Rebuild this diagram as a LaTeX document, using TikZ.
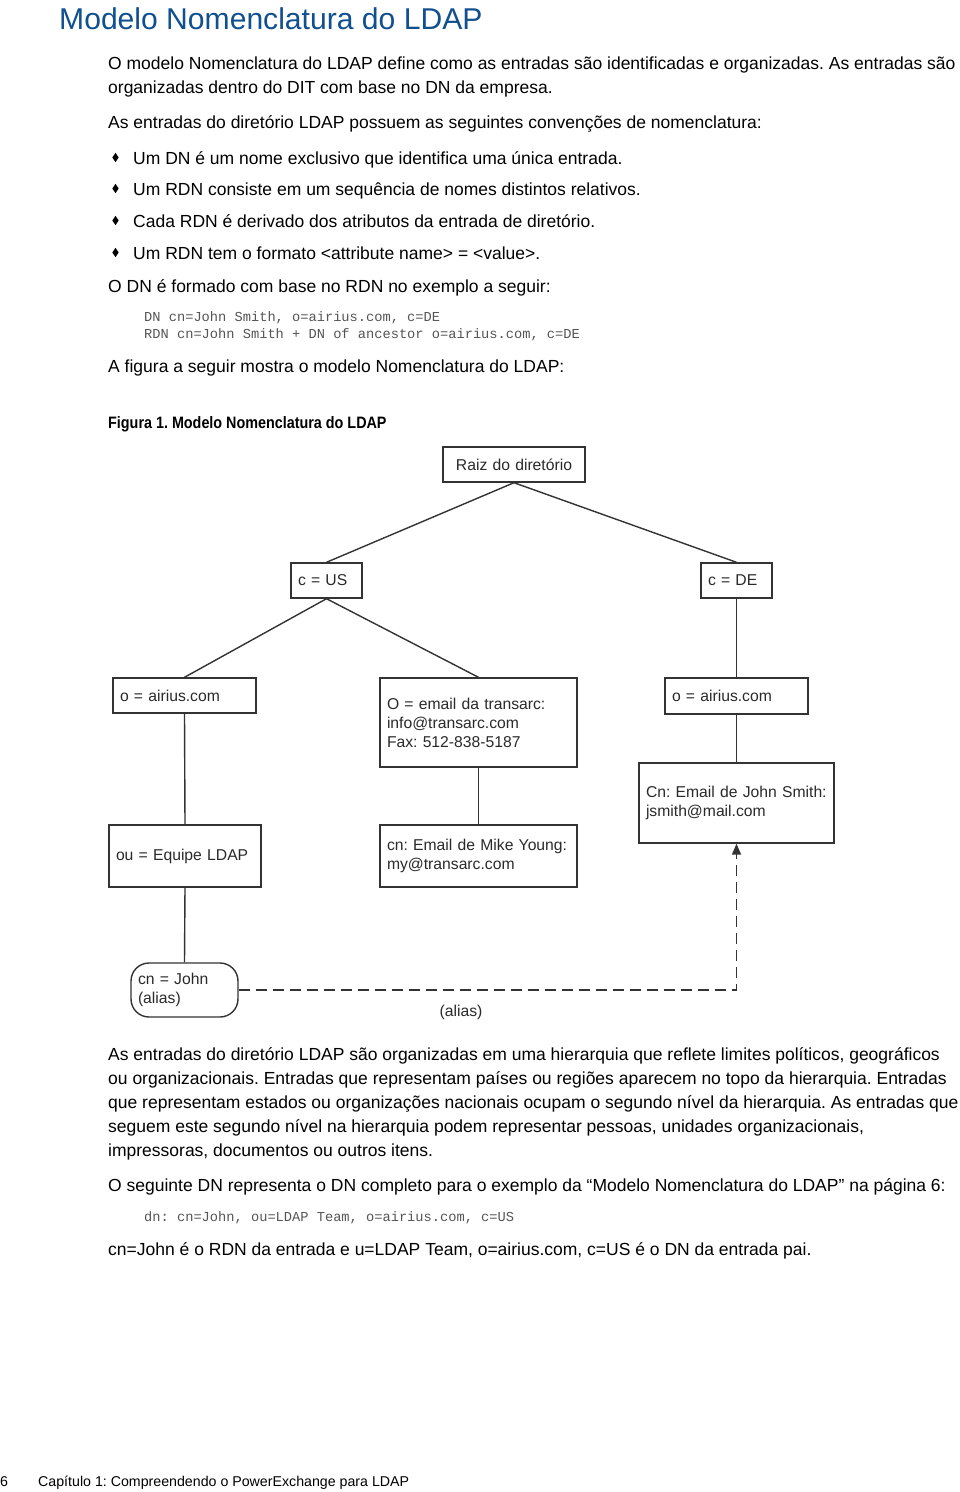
\documentclass[tikz,border=0pt]{standalone}
\usepackage{fontspec}
\setmainfont{Liberation Sans}
\newfontfamily\monof{Liberation Mono}
\newfontfamily\capf[FakeStretch=0.87]{Liberation Sans}
\usetikzlibrary{arrows.meta,shapes.geometric}
\frenchspacing
\definecolor{titleblue}{HTML}{10508F}
\definecolor{boxline}{HTML}{333333}
\definecolor{boxtext}{HTML}{2A2A2A}
\definecolor{monogray}{HTML}{555555}
\tikzset{
  body/.style={anchor=base west,inner sep=0pt,font=\fontsize{17.5}{20}\selectfont},
  mono/.style={anchor=base west,inner sep=0pt,text=monogray,font=\monof\fontsize{13.7}{16}\selectfont},
  bul/.style={diamond,fill=black,inner sep=0pt,minimum width=6.5pt,minimum height=9.5pt},
  entry/.style={draw=boxline,line width=1.4pt,inner xsep=7pt,inner ysep=0pt,align=left,text=boxtext,
     font=\fontsize{15.7}{19}\selectfont},
  conn/.style={draw=boxline,line width=1.4pt},
  alias/.style={draw=boxline,line width=1.7pt,dash pattern=on 11pt off 6pt,-{Triangle[length=11pt,width=9pt]}}
}
\begin{document}
\begin{tikzpicture}[x=1pt,y=-1pt]
\useasboundingbox (0,0) rectangle (960,1492);
\fill[white] (0,0) rectangle (960,1492);
% title
\node[anchor=base west,inner sep=0pt,text=titleblue,font=\fontsize{30.1}{34}\selectfont] (title) at (59,29) {Modelo Nomenclatura do LDAP};
% body text
\node[body] (t1) at (108,69) {O modelo Nomenclatura do LDAP define como as entradas são identificadas e organizadas. As entradas são};
\node[body] (t2) at (108,93) {organizadas dentro do DIT com base no DN da empresa.};
\node[body] (t3) at (108,128) {As entradas do diretório LDAP possuem as seguintes convenções de nomenclatura:};
\node[bul] (b1) at (115.5,157.5) {};
\node[body] (t4) at (133,164) {Um DN é um nome exclusivo que identifica uma única entrada.};
\node[bul] (b2) at (115.5,188.5) {};
\node[body] (t5) at (133,195) {Um RDN consiste em um sequência de nomes distintos relativos.};
\node[bul] (b3) at (115.5,220.5) {};
\node[body] (t6) at (133,227) {Cada RDN é derivado dos atributos da entrada de diretório.};
\node[bul] (b4) at (115.5,252.5) {};
\node[body] (t7) at (133,259) {Um RDN tem o formato <attribute name> = <value>.};
\node[body] (t8) at (108,292) {O DN é formado com base no RDN no exemplo a seguir:};
\node[mono] (m1) at (144,321) {DN cn=John Smith, o=airius.com, c=DE};
\node[mono] (m2) at (144,338) {RDN cn=John Smith + DN of ancestor o=airius.com, c=DE};
\node[body] (t9) at (108,372) {A figura a seguir mostra o modelo Nomenclatura do LDAP:};
\node[anchor=base west,inner sep=0pt,font=\capf\bfseries\fontsize{16.5}{20}\selectfont] (cap) at (108,428) {Figura 1. Modelo Nomenclatura do LDAP};
% diagram
\node[entry,align=center,text width=128pt,minimum height=35pt] (raiz) at (514,464.5) {Raiz do diretório};
\node[entry,text width=57pt,minimum height=35pt] (us) at (326.5,580.5) {c = US};
\node[entry,text width=57pt,minimum height=35pt] (de) at (736.5,580.5) {c = DE};
\node[entry,text width=129pt,minimum height=35pt] (oal) at (184.5,695.5) {o = airius.com};
\node[entry,text width=183pt,minimum height=89pt] (oem) at (478.5,722.5) {O = email da transarc:\\info@transarc.com\\Fax: 512-838-5187};
\node[entry,text width=129pt,minimum height=36pt] (oar) at (736.5,696) {o = airius.com};
\node[entry,text width=181pt,minimum height=80pt] (cnjs) at (736.5,803) {Cn: Email de John Smith:\\jsmith@mail.com};
\node[entry,text width=138pt,minimum height=62pt] (ou) at (185,856) {ou = Equipe LDAP};
\node[entry,text width=183pt,minimum height=62pt] (cnmy) at (478.5,856) {cn: Email de Mike Young:\\my@transarc.com};
\node[entry,rounded corners=18pt,text width=93pt,minimum height=54pt] (john) at (184.5,990) {cn = John\\(alias)};
\draw[conn] (raiz.south) -- (us.north);
\draw[conn] (raiz.south) -- (de.north);
\draw[conn] (us.south) -- (oal.north);
\draw[conn] (us.south) -- (oem.north);
\draw[conn] (de.south) -- (oar.north);
\draw[conn] (oar.south) -- (cnjs.north);
\draw[conn] (oal.south) -- (ou.north);
\draw[conn] (oem.south) -- (cnmy.north);
\draw[conn] (ou.south) -- (john.north);
\draw[alias] (john.east) -| (cnjs.south);
\node[anchor=center,inner sep=0pt,text=boxtext,font=\fontsize{15.7}{19}\selectfont] (alab) at (461,1012) {(alias)};
% text after figure
\node[body] (p1) at (108,1060) {As entradas do diretório LDAP são organizadas em uma hierarquia que reflete limites políticos, geográficos};
\node[body] (p2) at (108,1084) {ou organizacionais. Entradas que representam países ou regiões aparecem no topo da hierarquia. Entradas};
\node[body] (p3) at (108,1108) {que representam estados ou organizações nacionais ocupam o segundo nível da hierarquia. As entradas que};
\node[body] (p4) at (108,1132) {seguem este segundo nível na hierarquia podem representar pessoas, unidades organizacionais,};
\node[body] (p5) at (108,1156) {impressoras, documentos ou outros itens.};
\node[body] (p6) at (108,1191) {O seguinte DN representa o DN completo para o exemplo da “Modelo Nomenclatura do LDAP” na página 6:};
\node[mono] (m3) at (144,1221) {dn: cn=John, ou=LDAP Team, o=airius.com, c=US};
\node[body] (p7) at (108,1255) {cn=John é o RDN da entrada e u=LDAP Team, o=airius.com, c=US é o DN da entrada pai.};
% footer
\node[anchor=base west,inner sep=0pt,font=\fontsize{14.2}{18}\selectfont] (pg) at (0,1486) {6};
\node[anchor=base west,inner sep=0pt,font=\fontsize{14.2}{18}\selectfont] (chap) at (38,1486) {Capítulo 1: Compreendendo o PowerExchange para LDAP};
\end{tikzpicture}
\end{document}
